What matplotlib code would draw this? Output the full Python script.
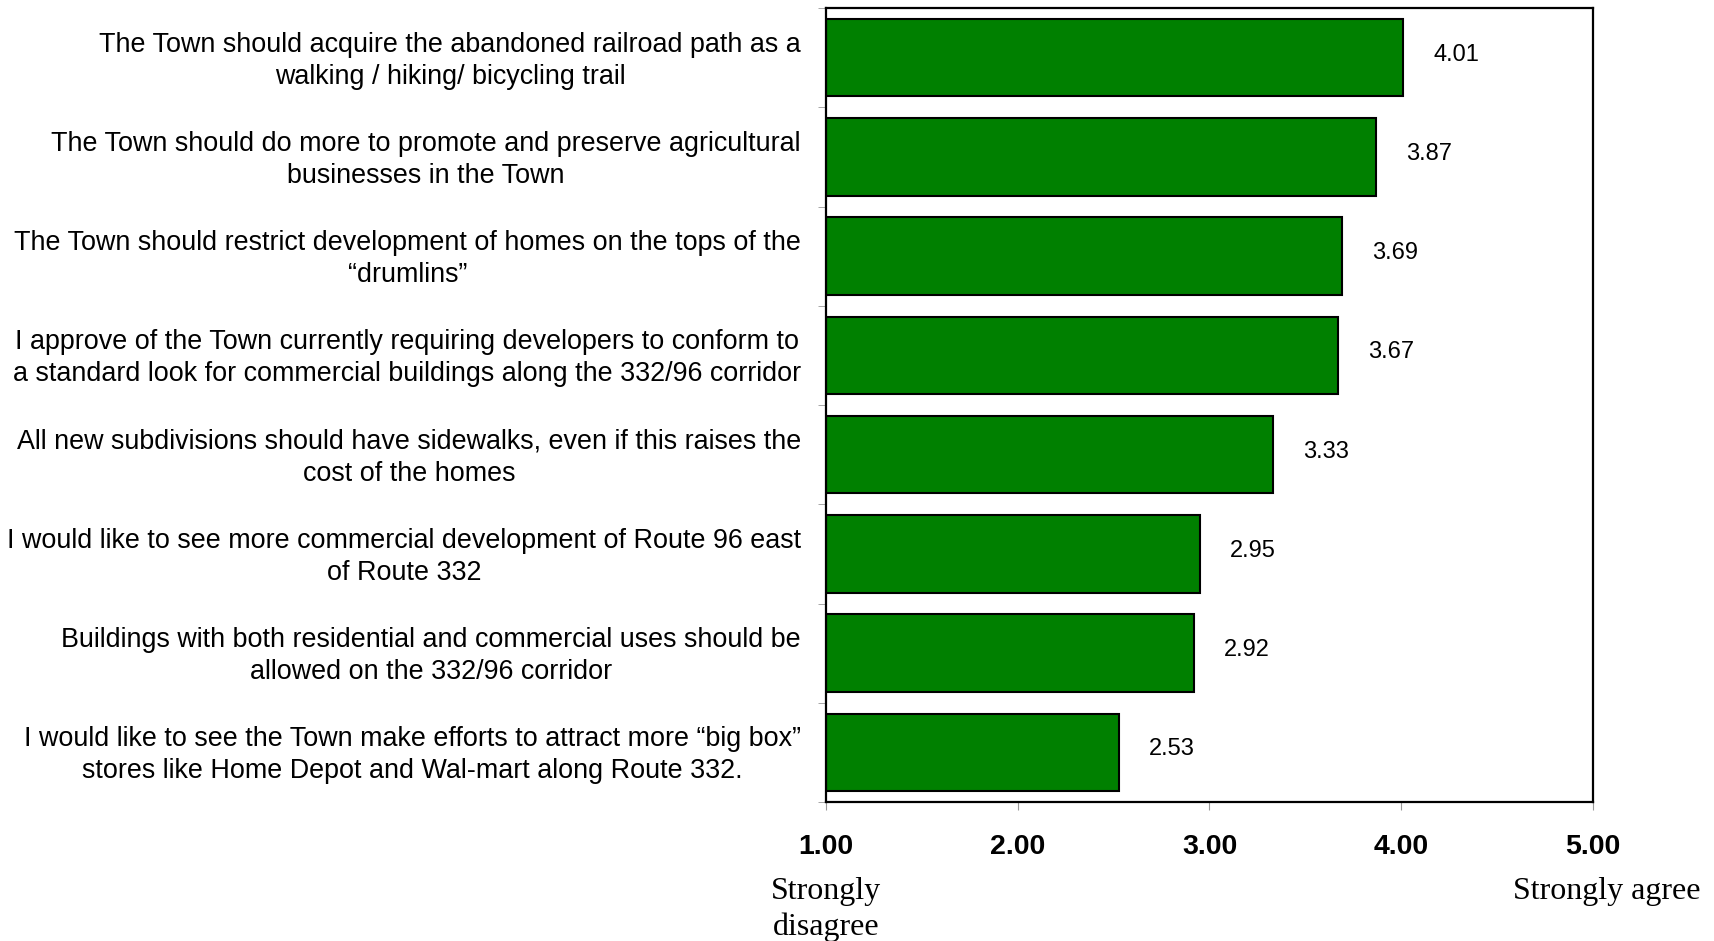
import matplotlib
matplotlib.use("Agg")
import matplotlib.pyplot as plt
from matplotlib.ticker import FixedLocator
import matplotlib.transforms as mtransforms

# Survey statements (top to bottom) and mean scores
statements = [
    "The Town should acquire the abandoned railroad path as a\nwalking / hiking/ bicycling trail",
    "The Town should do more to promote and preserve agricultural\nbusinesses in the Town",
    "The Town should restrict development of homes on the tops of the\n\u201cdrumlins\u201d",
    "I approve of the Town currently requiring developers to conform to\na standard look for commercial buildings along the 332/96 corridor",
    "All new subdivisions should have sidewalks, even if this raises the\ncost of the homes",
    "I would like to see more commercial development of Route 96 east\nof Route 332",
    "Buildings with both residential and commercial uses should be\nallowed on the 332/96 corridor",
    "I would like to see the Town make efforts to attract more \u201cbig box\u201d\nstores like Home Depot and Wal-mart along Route 332.",
]
scores = [4.01, 3.87, 3.69, 3.67, 3.33, 2.95, 2.92, 2.53]
x_ticks = [1, 2, 3, 4, 5]
x_ticklabels = ["1.00", "2.00", "3.00", "4.00", "5.00"]

fig = plt.figure(figsize=(17.14, 9.41), dpi=100)
ax = fig.add_axes([0.4819, 0.1477, 0.4475, 0.8438])

n = len(scores)
ypos = list(range(n))
ax.barh(ypos, [s - 1 for s in scores], left=1, height=0.78,
        color="#008000", edgecolor="black", linewidth=1.5, zorder=2)

ax.set_xlim(1, 5)
ax.set_ylim(n - 0.5, -0.5)

# value labels
offset = mtransforms.offset_copy(ax.transData, fig=fig, x=30, y=3, units="dots")
for y, s in zip(ypos, scores):
    ax.text(s, y, f"{s:.2f}", transform=offset, ha="left", va="center",
            fontsize=17, family="Liberation Sans")

# y labels a bit above bar centres, gray ticks at category boundaries
ax.set_yticks([y - 0.03 for y in ypos])
ax.set_yticklabels(statements, fontsize=19.4, family="Liberation Sans",
                   ha="right", multialignment="center", linespacing=1.3)
ax.tick_params(axis="y", which="major", length=0, pad=18)
ax.yaxis.set_minor_locator(FixedLocator([i - 0.5 for i in range(n + 1)]))
ax.tick_params(axis="y", which="minor", length=6, color="#999999", direction="out")

ax.set_xticks(x_ticks)
ax.set_xticklabels(x_ticklabels, fontsize=20.5, fontweight="bold", family="Liberation Sans")
ax.tick_params(axis="x", length=6, color="#999999", direction="out", pad=17)

for sp in ax.spines.values():
    sp.set_linewidth(1.6)
    sp.set_color("black")

# anchor descriptions
trans = mtransforms.blended_transform_factory(ax.transData, fig.transFigure)
ax.text(1.0, 1 - 891 / 941, "Strongly", transform=trans, ha="center", va="center",
        fontsize=23, family="Liberation Serif")
ax.text(1.0, 1 - 927 / 941, "disagree", transform=trans, ha="center", va="center",
        fontsize=23, family="Liberation Serif")
ax.text(5.07, 1 - 891 / 941, "Strongly agree", transform=trans, ha="center", va="center",
        fontsize=23, family="Liberation Serif")

fig.savefig("out.png", dpi=100)
